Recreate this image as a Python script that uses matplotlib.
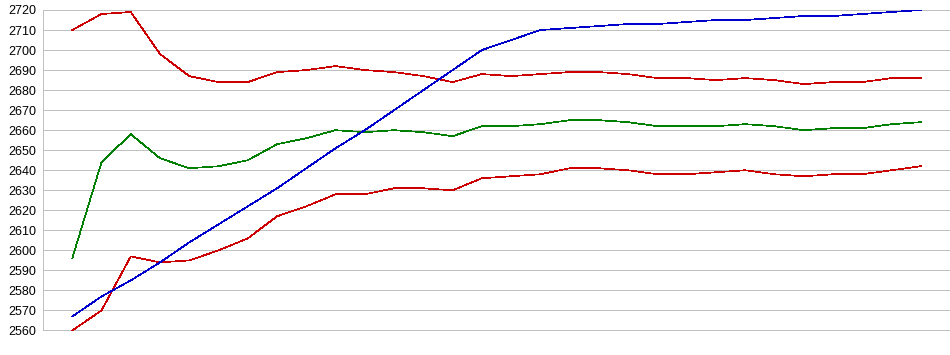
import numpy as np
import matplotlib
matplotlib.use("Agg")
import matplotlib.pyplot as plt

# valeurs (30 points)
haut_rouge = [2710, 2718, 2719, 2698, 2687, 2684, 2684, 2689, 2690, 2692,
              2690, 2689, 2687, 2684, 2688, 2687, 2688, 2689, 2689, 2688,
              2686, 2686, 2685, 2686, 2685, 2683, 2684, 2684, 2686, 2686]
milieu_vert = [2596, 2644, 2658, 2646, 2641, 2642, 2645, 2653, 2656, 2660,
               2659, 2660, 2659, 2657, 2662, 2662, 2663, 2665, 2665, 2664,
               2662, 2662, 2662, 2663, 2662, 2660, 2661, 2661, 2663, 2664]
bas_rouge = [2560, 2570, 2597, 2594, 2595, 2600, 2606, 2617, 2622, 2628,
             2628, 2631, 2631, 2630, 2636, 2637, 2638, 2641, 2641, 2640,
             2638, 2638, 2639, 2640, 2638, 2637, 2638, 2638, 2640, 2642]
bleu = [2567, 2577, 2585, 2594, 2604, 2613, 2622, 2631, 2641, 2651,
        2660, 2670, 2680, 2690, 2700, 2705, 2710, 2711, 2712, 2713,
        2713, 2714, 2715, 2715, 2716, 2717, 2717, 2718, 2719, 2720]

yticks = list(range(2560, 2730, 10))

x = np.arange(len(bleu))

fig = plt.figure(figsize=(9.5, 3.55), dpi=100)
ax = fig.add_axes([43 / 950, 24.5 / 355, 1 - 43 / 950, 320.5 / 355])

# traits fins de 1 pixel
lw = 0.72
ax.plot(x, haut_rouge, color='#cc0000', lw=0.5, antialiased=False)
ax.plot(x, milieu_vert, color='#008000', lw=0.5, antialiased=False)
ax.plot(x, bas_rouge, color='#cc0000', lw=0.5, antialiased=False)
ax.plot(x, bleu, color='#0000cc', lw=0.5, antialiased=False)

ax.set_xlim(-1, 30)
ax.set_ylim(2560, 2720)
ax.set_yticks(yticks)
ax.set_xticks([])
ax.yaxis.grid(True, color='#c0c0c0', lw=lw, antialiased=False)
ax.set_axisbelow(True)
ax.tick_params(axis='y', length=0, pad=5, labelsize=9)
for lab in ax.get_yticklabels():
    lab.set_family('Liberation Sans')

for s in ['top', 'right', 'bottom']:
    ax.spines[s].set_visible(False)
ax.spines['left'].set_color('#c0c0c0')
ax.spines['left'].set_linewidth(lw)
ax.spines['left'].set_antialiased(False)

fig.savefig('out.png', dpi=100)
